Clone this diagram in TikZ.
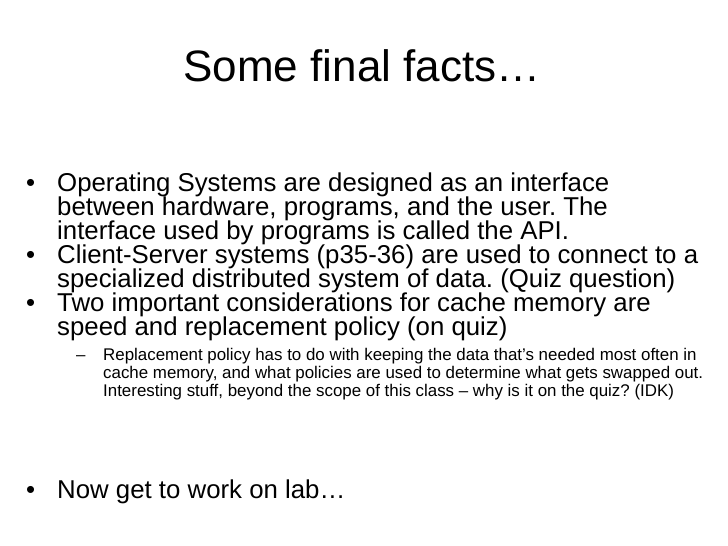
\documentclass[tikz,border=0pt]{standalone}
\usepackage{fontspec}
\setmainfont{Liberation Sans}
\begin{document}
\frenchspacing
\begin{tikzpicture}[x=1pt,y=-1pt,
  body/.style={anchor=base west,inner sep=0pt,font=\fontsize{25.8}{28}\selectfont},
  sub/.style={anchor=base west,inner sep=0pt,font=\fontsize{16.9}{20}\selectfont}]
\useasboundingbox (0,0) rectangle (728,546);
\node[anchor=base,inner sep=0pt,font=\fontsize{44}{48}\selectfont] (title) at (362,81) {Some final facts…};
\node[body] (b1) at (26,191) {•};
\node[body] (l1) at (57,191) {Operating Systems are designed as an interface};
\node[body] (l2) at (57,215) {between hardware, programs, and the user. The};
\node[body] (l3) at (57,239) {interface used by programs is called the API.};
\node[body] (b2) at (26,263) {•};
\node[body] (l4) at (57,263) {Client-Server systems (p35-36) are used to connect to a};
\node[body] (l5) at (57,287) {specialized distributed system of data. (Quiz question)};
\node[body] (b3) at (26,311) {•};
\node[body] (l6) at (57,311) {Two important considerations for cache memory are};
\node[body] (l7) at (57,335) {speed and replacement policy (on quiz)};
\node[sub] (d1) at (76,360) {–};
\node[sub] (s1) at (103,360) {Replacement policy has to do with keeping the data that’s needed most often in};
\node[sub] (s2) at (103,378) {cache memory, and what policies are used to determine what gets swapped out.};
\node[sub] (s3) at (103,396) {Interesting stuff, beyond the scope of this class – why is it on the quiz? (IDK)};
\node[body] (b4) at (26,498) {•};
\node[body] (l8) at (57,498) {Now get to work on lab…};
\end{tikzpicture}
\end{document}
